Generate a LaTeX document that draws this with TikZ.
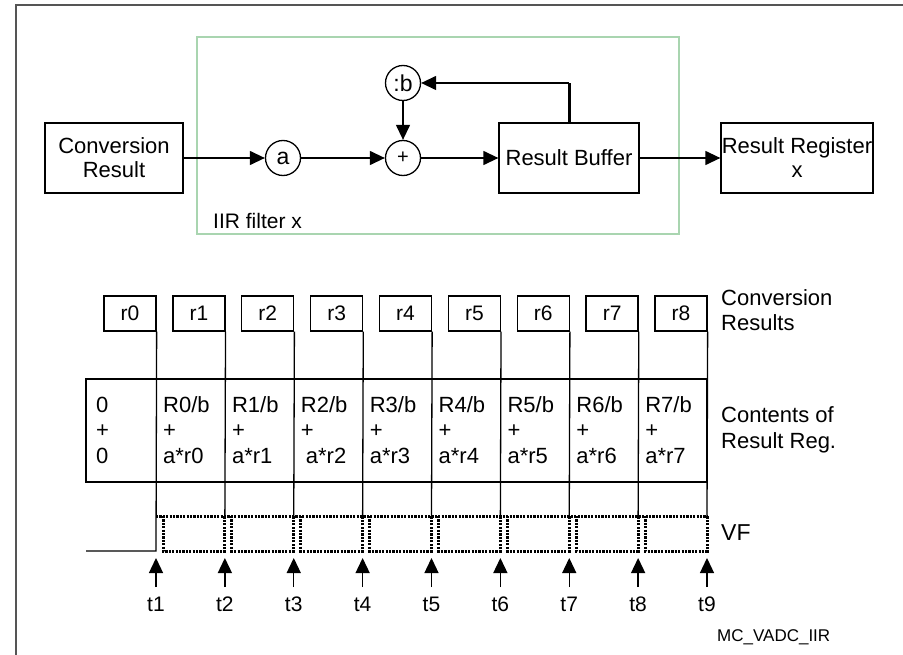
\documentclass[tikz,border=0pt]{standalone}
\usepackage{fontspec}
\setmainfont{Liberation Sans}
\usetikzlibrary{arrows.meta}
\definecolor{framegray}{HTML}{555555}
\definecolor{filtergreen}{HTML}{A9D5B0}
\tikzset{
  arr/.style={-{Triangle[length=15pt,width=14pt]}, line width=1.3pt},
  blk/.style={draw, line width=1.3pt, minimum width=#1, minimum height=70pt, inner sep=0pt, align=center, font=\fontsize{22}{24}\selectfont},
  opnode/.style={draw, circle, line width=1.3pt, minimum size=35pt, inner sep=0pt, font=\fontsize{23}{24}\selectfont},
  rbox/.style={draw, line width=1.3pt, minimum width=52pt, minimum height=35pt, inner sep=0pt, font=\fontsize{21}{24}\selectfont},
  txt/.style={inner sep=0pt, align=left, font=\fontsize{22}{25.5}\selectfont},
  vfdots/.style={line width=3pt, dash pattern=on 2.2pt off 1.2pt, line cap=butt},
  thinline/.style={line width=1.3pt}
}
\begin{document}
\begin{tikzpicture}[x=1pt,y=-1pt]
\useasboundingbox (0,0) rectangle (903,655);
% outer frame (only top and left edges visible)
\draw[framegray, line width=2.2pt] (16,655) -- (16,5) -- (903,5);
% filter frame
\node[draw=filtergreen, line width=1.3pt, minimum width=482pt, minimum height=197pt, inner sep=0pt] (filter) at (438,135.5) {};
\node[anchor=west, inner sep=0pt, font=\fontsize{21}{24}\selectfont] (flabel) at (213,221) {IIR filter x};
% blocks
\node[blk=138pt] (conv) at (114,158) {Conversion\\Result};
\node[opnode] (a) at (283,158) {a};
\node[opnode, font=\fontsize{20}{24}\selectfont] (plus) at (403,158) {+};
\node[opnode] (divb) at (403,83) {:b};
\node[blk=140pt] (buf) at (569,158) {Result Buffer};
\node[blk=152pt] (reg) at (797,158) {Result Register\\x};
\coordinate (fb) at (buf.north |- divb);
\draw[arr] (conv) -- (a);
\draw[arr] (a) -- (plus);
\draw[arr] (plus) -- (buf);
\draw[arr] (buf) -- (reg);
\draw[arr] (divb) -- (plus);
\draw[line width=3pt] (buf.north) -- (fb);
\draw[arr] (fb) -- (divb);
% conversion result boxes and vertical lines
\foreach \i in {0,...,8}{
  \pgfmathsetmacro{\xx}{156+68.875*\i}
  \node[rbox] (r\i) at (\xx-26,313.5) {r\i};
  \coordinate (top\i) at (\xx,516);
  \coordinate (bot\i) at (\xx,551);
}
\draw[thinline] (r0.south east) -- (bot0) -- (86,551);
\foreach \i in {1,...,8}{
  \draw[thinline] (r\i.south east) -- (top\i);
}
% contents table
\node[draw, line width=1.3pt, minimum width=621pt, minimum height=103pt, inner sep=0pt] (table) at (396.5,430.5) {};
\node[txt, anchor=west] (c0) at (96,430) {0\\+\\0};
\foreach \i/\tx in {0/{a*r0},1/{a*r1},2/{\hspace{5pt}a*r2},3/{a*r3},4/{a*r4},5/{a*r5},6/{a*r6},7/{a*r7}}{
  \pgfmathsetmacro{\xx}{156+68.875*\i+7}
  \node[txt, anchor=west] (c\i) at (\xx,430) {R\i/b\\+\\\tx};
}
\node[txt, anchor=west] (lconv) at (721,310) {Conversion\\Results};
\node[txt, anchor=west] (lcont) at (721,430) {Contents of\\Result Reg.};
% VF waveform
\draw[vfdots] (top0) -- (top8);
\foreach \i [evaluate=\i as \j using int(\i+1)] in {0,...,7}{
  \pgfmathsetmacro{\xx}{156+68.875*\i+7}
  \draw[vfdots] (\xx,516) -- (\xx,551) -- (bot\j) -- (top\j);
}
\node[anchor=west, inner sep=0pt, font=\fontsize{23}{24}\selectfont] (vf) at (721,533) {VF};
% time arrows
\foreach \i [evaluate=\i as \j using int(\i+1)] in {0,...,8}{
  \pgfmathsetmacro{\xx}{156+68.875*\i}
  \node[inner sep=0pt, font=\fontsize{21}{24}\selectfont] (t\j) at (\xx,604) {t\j};
  \coordinate (tip\j) at (\xx,558);
  \draw[arr] (\xx,587) -- (tip\j);
}
\node[anchor=west, inner sep=0pt, font=\fontsize{17}{20}\selectfont] (mc) at (717,637) {MC\_VADC\_IIR};
\end{tikzpicture}
\end{document}
